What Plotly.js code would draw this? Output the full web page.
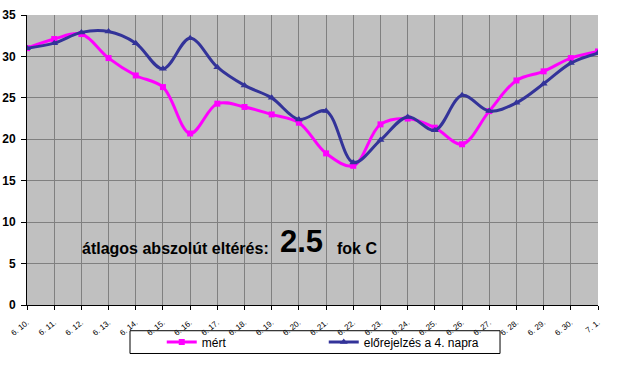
<!DOCTYPE html>
<html><head><meta charset="utf-8">
<script src="https://cdn.plot.ly/plotly-3.0.1.min.js"></script>
<style>html,body{margin:0;padding:0;background:#fff}#c{width:621px;height:369px}</style>
</head><body><div id="c"></div>
<script>
const categories = ["6. 10.","6. 11.","6. 12.","6. 13.","6. 14.","6. 15.","6. 16.","6. 17.","6. 18.","6. 19.","6. 20.","6. 21.","6. 22.","6. 23.","6. 24.","6. 25.","6. 26.","6. 27.","6. 28.","6. 29.","6. 30.","7. 1."];
const mert = [31.0,32.1,32.7,29.8,27.7,26.3,20.7,24.3,23.9,23.0,22.0,18.3,16.8,21.8,22.5,21.4,19.4,23.4,27.1,28.2,29.8,30.6];
const elorejelzes = [31.0,31.6,32.9,33.0,31.6,28.5,32.2,28.7,26.5,25.0,22.4,23.4,17.2,19.9,22.7,21.1,25.3,23.4,24.4,26.7,29.2,30.4];
const seriesNames = ["mért","előrejelzés a 4. napra"];
const yTicks = [0,5,10,15,20,25,30,35];

const F = '"Liberation Sans", Arial, sans-serif';
const traces = [
  {x: categories, y: mert, name: seriesNames[0], type:'scatter', mode:'lines+markers',
   line:{color:'#FF00FF', width:3, shape:'spline', smoothing:1},
   marker:{symbol:'square', size:6, color:'#FF00FF'}},
  {x: categories, y: elorejelzes, name: seriesNames[1], type:'scatter', mode:'lines+markers',
   line:{color:'#333399', width:3, shape:'spline', smoothing:1},
   marker:{symbol:'triangle-up', size:7, color:'#333399'}}
];
const layout = {
  width:621, height:369,
  margin:{l:27, r:23, t:15, b:61},
  paper_bgcolor:'#ffffff', plot_bgcolor:'#C0C0C0',
  font:{family:F, color:'#000'},
  showlegend:true,
  legend:{orientation:'h', x:0.236, y:-0.128, xanchor:'left', yanchor:'middle',
    bgcolor:'rgba(0,0,0,0)', borderwidth:0, font:{family:F, size:12, color:'#000'},
    entrywidth:117, entrywidthmode:'pixels'},
  xaxis:{type:'category', range:[0,21], showgrid:true, gridcolor:'#808080', gridwidth:1,
    showline:true, linecolor:'#000', linewidth:1, ticks:'outside', ticklen:4, tickcolor:'#000',
    tickangle:-38, ticklabelstandoff:5, tickfont:{family:F, size:8, color:'#000'}, zeroline:false, fixedrange:true},
  yaxis:{range:[0,35], tickvals:yTicks, showgrid:true, gridcolor:'#808080', gridwidth:1,
    showline:true, linecolor:'#000', linewidth:1, ticks:'outside', ticklen:5, tickcolor:'#000',
    ticklabelstandoff:3, tickfont:{family:F, size:12, color:'#000', weight:'bold'}, zeroline:false},
  shapes:[{type:'rect', xref:'paper', yref:'paper', x0:0.1804, x1:0.8284, y0:-0.1672, y1:-0.0887,
    line:{color:'#000', width:1}, fillcolor:'rgba(0,0,0,0)', layer:'above'}],
  annotations:[
    {xref:'paper', yref:'y', x:(80-27)/571, y:6.85, xanchor:'left', yanchor:'middle', showarrow:false,
     text:'<b>átlagos abszolút eltérés:</b>', font:{family:F, size:16, color:'#000'}},
    {xref:'paper', yref:'y', x:(278-27)/571, y:7.65, xanchor:'left', yanchor:'middle', showarrow:false,
     text:'<b>2.5</b>', font:{family:F, size:31, color:'#000'}},
    {xref:'paper', yref:'y', x:(335-27)/571, y:6.85, xanchor:'left', yanchor:'middle', showarrow:false,
     text:'<b>fok C</b>', font:{family:F, size:16, color:'#000'}}
  ]
};
Plotly.newPlot('c', traces, layout, {displayModeBar:false, staticPlot:true});
</script></body></html>
